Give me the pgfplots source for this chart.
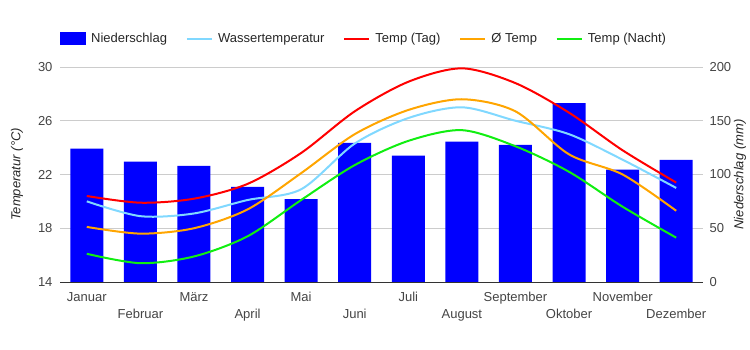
\documentclass[border=0pt]{standalone}
\usepackage{fontspec}
\setmainfont{Liberation Sans}
\usepackage{pgfplots}
\pgfplotsset{compat=1.18}
\definecolor{rain}{HTML}{0000FF}
\definecolor{water}{HTML}{80D8FF}
\definecolor{tday}{HTML}{FF0000}
\definecolor{tavg}{HTML}{FFA500}
\definecolor{tnight}{HTML}{11EE11}
\definecolor{ticktxt}{HTML}{444444}
\definecolor{gridc}{HTML}{CCCCCC}
\pgfplotsset{
  myline/.style={line width=2bp, smooth, tension=0.5,
    legend image code/.code={\draw[##1, line width=2.5bp] (0bp,0bp) -- (25bp,0bp);}},
  base/.style={
    width=643bp, height=215bp, scale only axis,
    xmin=-0.5, xmax=11.5,
    /pgf/number format/assume math mode=true,
    tick label style={font=\fontsize{13bp}{15bp}\selectfont, text=ticktxt},
    label style={font=\fontsize{13bp}{15bp}\selectfont\itshape, text=black!85},
    major tick length=0pt,
  }
}
\begin{document}
\fontsize{13bp}{15bp}\selectfont
\begin{tikzpicture}
\useasboundingbox (-60bp,-68bp) rectangle (690bp,282bp);
\begin{axis}[base,
  ymin=0, ymax=200, ytick={0,50,100,150,200},
  axis y line*=right, axis x line*=bottom,
  ymajorgrids, grid style={draw=gridc, line width=0.8bp},
  y axis line style={draw=none},
  x axis line style={draw=black!80, line width=1bp, -},
  xtick={0,2,4,6,8,10},
  xticklabels={Januar,März,Mai,Juli,September,November},
  xticklabel style={yshift=-6bp},
  yticklabel style={xshift=2bp},
  ylabel={Niederschlag (mm)},
  ylabel style={at={(axis description cs:1,0.5)}, anchor=center, yshift=-37bp},
]
\addplot[ybar, bar width=33bp, fill=rain, draw=none] coordinates {
(0,124) (1,112) (2,108) (3,88.5) (4,77) (5,129.5) (6,117.5) (7,130.5) (8,127.5) (9,166.5) (10,104.5) (11,113.5)};
\end{axis}
\begin{axis}[base,
  ymin=14, ymax=30, ytick={14,18,22,26,30},
  axis y line*=left, axis x line*=bottom,
  x axis line style={draw=none}, y axis line style={draw=none},
  xtick={1,3,5,7,9,11},
  xticklabels={Februar,April,Juni,August,Oktober,Dezember},
  xticklabel style={yshift=-23bp},
  yticklabel style={xshift=-3bp},
  ylabel={Temperatur (°C)},
  ylabel style={at={(axis description cs:0,0.5)}, anchor=center, yshift=43bp},
  legend columns=5,
  legend style={at={(axis description cs:0,1)}, anchor=west, yshift=28bp, xshift=0bp,
    draw=none, fill=none, inner sep=0pt, font=\fontsize{13bp}{15bp}\selectfont,
    text=black!85,
    /tikz/every odd column/.append style={column sep=3bp},
    /tikz/every even column/.append style={column sep=16.5bp}},
  legend cell align=left,
]
\addlegendimage{area legend, fill=rain, draw=none, legend image code/.code={\fill[rain] (0bp,-6.5bp) rectangle (26bp,6.5bp);}}
\addlegendentry{Niederschlag}
\addplot[water, myline] coordinates {
(0,20.0) (1,18.9) (2,19.1) (3,20.1) (4,20.9) (5,24.3) (6,26.2) (7,27.0) (8,26.0) (9,25.0) (10,23.1) (11,21.0)};
\addlegendentry{Wassertemperatur}
\addplot[tday, myline] coordinates {
(0,20.4) (1,19.9) (2,20.2) (3,21.3) (4,23.6) (5,26.7) (6,28.9) (7,29.9) (8,28.8) (9,26.6) (10,23.8) (11,21.4)};
\addlegendentry{Temp (Tag)}
\addplot[tavg, myline] coordinates {
(0,18.1) (1,17.6) (2,18.0) (3,19.4) (4,22.1) (5,25.0) (6,26.8) (7,27.6) (8,26.7) (9,23.5) (10,22.0) (11,19.3)};
\addlegendentry{Ø Temp}
\addplot[tnight, myline] coordinates {
(0,16.1) (1,15.4) (2,15.9) (3,17.4) (4,20.1) (5,22.7) (6,24.5) (7,25.3) (8,24.1) (9,22.2) (10,19.6) (11,17.3)};
\addlegendentry{Temp (Nacht)}
\end{axis}
\end{tikzpicture}
\end{document}
